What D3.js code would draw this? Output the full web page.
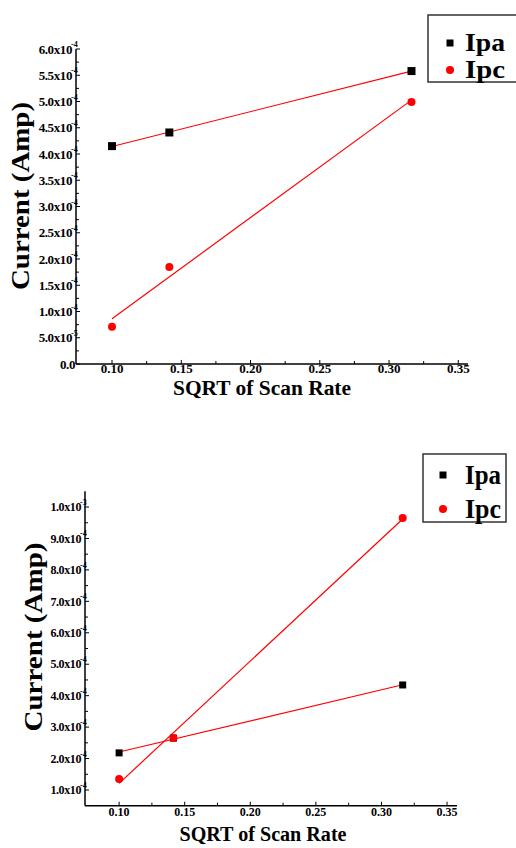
<!DOCTYPE html>
<html>
<head>
<meta charset="utf-8">
<script src="https://cdn.jsdelivr.net/npm/d3@7"></script>
<style>
  body { margin: 0; background: #fff; }
  svg { display: block; }
  text { font-family: "Liberation Serif", "Times New Roman", serif; font-weight: bold; }
</style>
</head>
<body>
<script>
// data: x is SQRT of scan rate, y is current in Amp
const sqrtRate = [0.1, 0.1414, 0.3162];
const xTicks = [0.10, 0.15, 0.20, 0.25, 0.30, 0.35];

const ipaTop = [4.15e-4, 4.41e-4, 5.58e-4];
const ipcTop = [0.71e-4, 1.85e-4, 4.99e-4];
const yTicksTop = [0, 0.5e-4, 1e-4, 1.5e-4, 2e-4, 2.5e-4, 3e-4, 3.5e-4, 4e-4, 4.5e-4, 5e-4, 5.5e-4, 6e-4];

const ipaBottom = [2.18e-4, 2.65e-4, 4.34e-4];
const ipcBottom = [1.35e-4, 2.65e-4, 9.65e-4];
const yTicksBottom = [1e-4, 2e-4, 3e-4, 4e-4, 5e-4, 6e-4, 7e-4, 8e-4, 9e-4, 1e-3];

const seriesNames = ["Ipa", "Ipc"];

const svg = d3.select("body").append("svg")
  .attr("width", 516)
  .attr("height", 848);

// least squares line
function fit(xs, ys) {
  const mx = d3.mean(xs), my = d3.mean(ys);
  const sxy = d3.sum(xs, (x, i) => (x - mx) * (ys[i] - my));
  const sxx = d3.sum(xs, x => (x - mx) * (x - mx));
  const b = sxy / sxx;
  return x => my + b * (x - mx);
}

// "4.5x10^-4" style labels
function sciParts(v) {
  if (v === 0) return ["0.0", ""];
  const e = Math.floor(Math.log10(v) + 1e-9);
  const m = v / Math.pow(10, e);
  return [m.toFixed(1) + "x10", String(e)];
}

function drawChart(c) {
  const g = svg.append("g");
  const x = d3.scaleLinear().domain(c.xDomain).range(c.xRange);
  const y = d3.scaleLinear().domain(c.yDomain).range(c.yRange);
  const x0 = c.xRange[0], yb = c.yRange[0];

  // axes lines
  g.append("line").attr("x1", x0).attr("x2", x0).attr("y1", c.yRange[1]).attr("y2", yb)
    .attr("stroke", "#000").attr("stroke-width", 1.5);
  g.append("line").attr("x1", x0).attr("x2", c.xRange[1]).attr("y1", yb).attr("y2", yb)
    .attr("stroke", "#000").attr("stroke-width", 1.5);

  // x ticks (major + minor), pointing inward
  const xMinor = d3.range(xTicks.length - 1).map(i => (xTicks[i] + xTicks[i + 1]) / 2);
  g.selectAll(".xt").data(xTicks.concat(xMinor)).join("line")
    .attr("x1", d => x(d)).attr("x2", d => x(d))
    .attr("y1", yb).attr("y2", (d, i) => yb - (i < xTicks.length ? 4 : 3))
    .attr("stroke", "#000");
  g.selectAll(".xl").data(xTicks).join("text")
    .attr("x", d => x(d)).attr("y", c.xLabelY)
    .attr("text-anchor", "middle")
    .attr("font-size", c.tickFont)
    .text(d => d.toFixed(2));

  // y ticks
  const yt = c.yTicks;
  const yMinor = d3.range(yt.length - 1).map(i => (yt[i] + yt[i + 1]) / 2);
  g.selectAll(".yt").data(yt.concat(yMinor)).join("line")
    .attr("x1", x0).attr("x2", (d, i) => x0 + (i < yt.length ? 4 : 3))
    .attr("y1", d => y(d)).attr("y2", d => y(d))
    .attr("stroke", "#000");
  g.selectAll(".yl").data(yt).join("text")
    .attr("x", d => d === 0 ? x0 - 1 : x0 - 4).attr("y", d => y(d) + c.tickFont * 0.35)
    .attr("text-anchor", "end")
    .attr("font-size", c.tickFont)
    .attr("letter-spacing", -0.4)
    .text(d => sciParts(d)[0]);
  g.selectAll(".ys").data(yt.filter(d => d !== 0)).join("text")
    .attr("x", x0 - 5).attr("y", d => y(d) - 2)
    .attr("font-size", 8)
    .text(d => sciParts(d)[1]);

  // axis titles
  g.append("text")
    .attr("x", c.xTitle[0]).attr("y", c.xTitle[1])
    .attr("text-anchor", "middle")
    .attr("font-size", c.titleFont)
    .attr("textLength", c.xTitleLen).attr("lengthAdjust", "spacingAndGlyphs")
    .text("SQRT of Scan Rate");
  g.append("text")
    .attr("transform", `translate(${c.yTitle[0]},${c.yTitle[1]}) rotate(-90)`)
    .attr("text-anchor", "middle")
    .attr("font-size", c.yTitleFont)
    .attr("textLength", c.yTitleLen).attr("lengthAdjust", "spacingAndGlyphs")
    .text("Current (Amp)");

  // fit lines
  const ext = d3.extent(sqrtRate);
  [c.ipa, c.ipc].forEach(ys => {
    const f = fit(sqrtRate, ys);
    g.append("line")
      .attr("x1", x(ext[0])).attr("y1", y(f(ext[0])))
      .attr("x2", x(ext[1])).attr("y2", y(f(ext[1])))
      .attr("stroke", "#f00").attr("stroke-width", 1.2);
  });

  // markers
  const s = c.sq;
  g.selectAll(".pa").data(c.ipa).join("rect")
    .attr("x", (d, i) => x(sqrtRate[i]) - s / 2).attr("y", d => y(d) - s / 2)
    .attr("width", s).attr("height", s).attr("fill", "#000");
  g.selectAll(".pc").data(c.ipc).join("circle")
    .attr("cx", (d, i) => x(sqrtRate[i])).attr("cy", d => y(d))
    .attr("r", c.r).attr("fill", "#f00");

  // legend
  const L = c.legend;
  g.append("rect").attr("x", L.x).attr("y", L.y).attr("width", L.w).attr("height", L.h)
    .attr("fill", "#fff").attr("stroke", "#333").attr("stroke-width", 1.5);
  seriesNames.forEach((name, i) => {
    const my = L.y + L.rows[i];
    if (i === 0) {
      g.append("rect").attr("x", L.mx - 3.5).attr("y", my - 3.5).attr("width", 7).attr("height", 7).attr("fill", "#000");
    } else {
      g.append("circle").attr("cx", L.mx).attr("cy", my).attr("r", 4).attr("fill", "#f00");
    }
    g.append("text")
      .attr("x", L.tx).attr("y", my + L.font * 0.33)
      .attr("font-size", L.font)
      .attr("textLength", L.tlen).attr("lengthAdjust", "spacingAndGlyphs")
      .text(name);
  });
}

drawChart({
  xDomain: [0.074, 0.357], xRange: [76, 468],
  yDomain: [0, 6e-4], yRange: [364, 49],
  yTicks: yTicksTop, ipa: ipaTop, ipc: ipcTop,
  tickFont: 13, xLabelY: 373,
  xTitle: [262, 395], titleFont: 20, xTitleLen: 178,
  yTitle: [29, 196], yTitleFont: 26, yTitleLen: 188,
  sq: 8, r: 4,
  legend: { x: 428, y: 15, w: 100, h: 67, rows: [28, 55], mx: 450, tx: 465, font: 25, tlen: 40 }
});

drawChart({
  xDomain: [0.074, 0.3576], xRange: [85, 457],
  yDomain: [0.5e-4, 1.05e-3], yRange: [805.7, 491.3],
  yTicks: yTicksBottom, ipa: ipaBottom, ipc: ipcBottom,
  tickFont: 12, xLabelY: 816,
  xTitle: [263, 841], titleFont: 20, xTitleLen: 167,
  yTitle: [42, 637], yTitleFont: 25, yTitleLen: 189,
  sq: 7, r: 4,
  legend: { x: 423, y: 454, w: 83, h: 68, rows: [21, 55], mx: 443, tx: 465, font: 27, tlen: 36 }
});
</script>
</body>
</html>
